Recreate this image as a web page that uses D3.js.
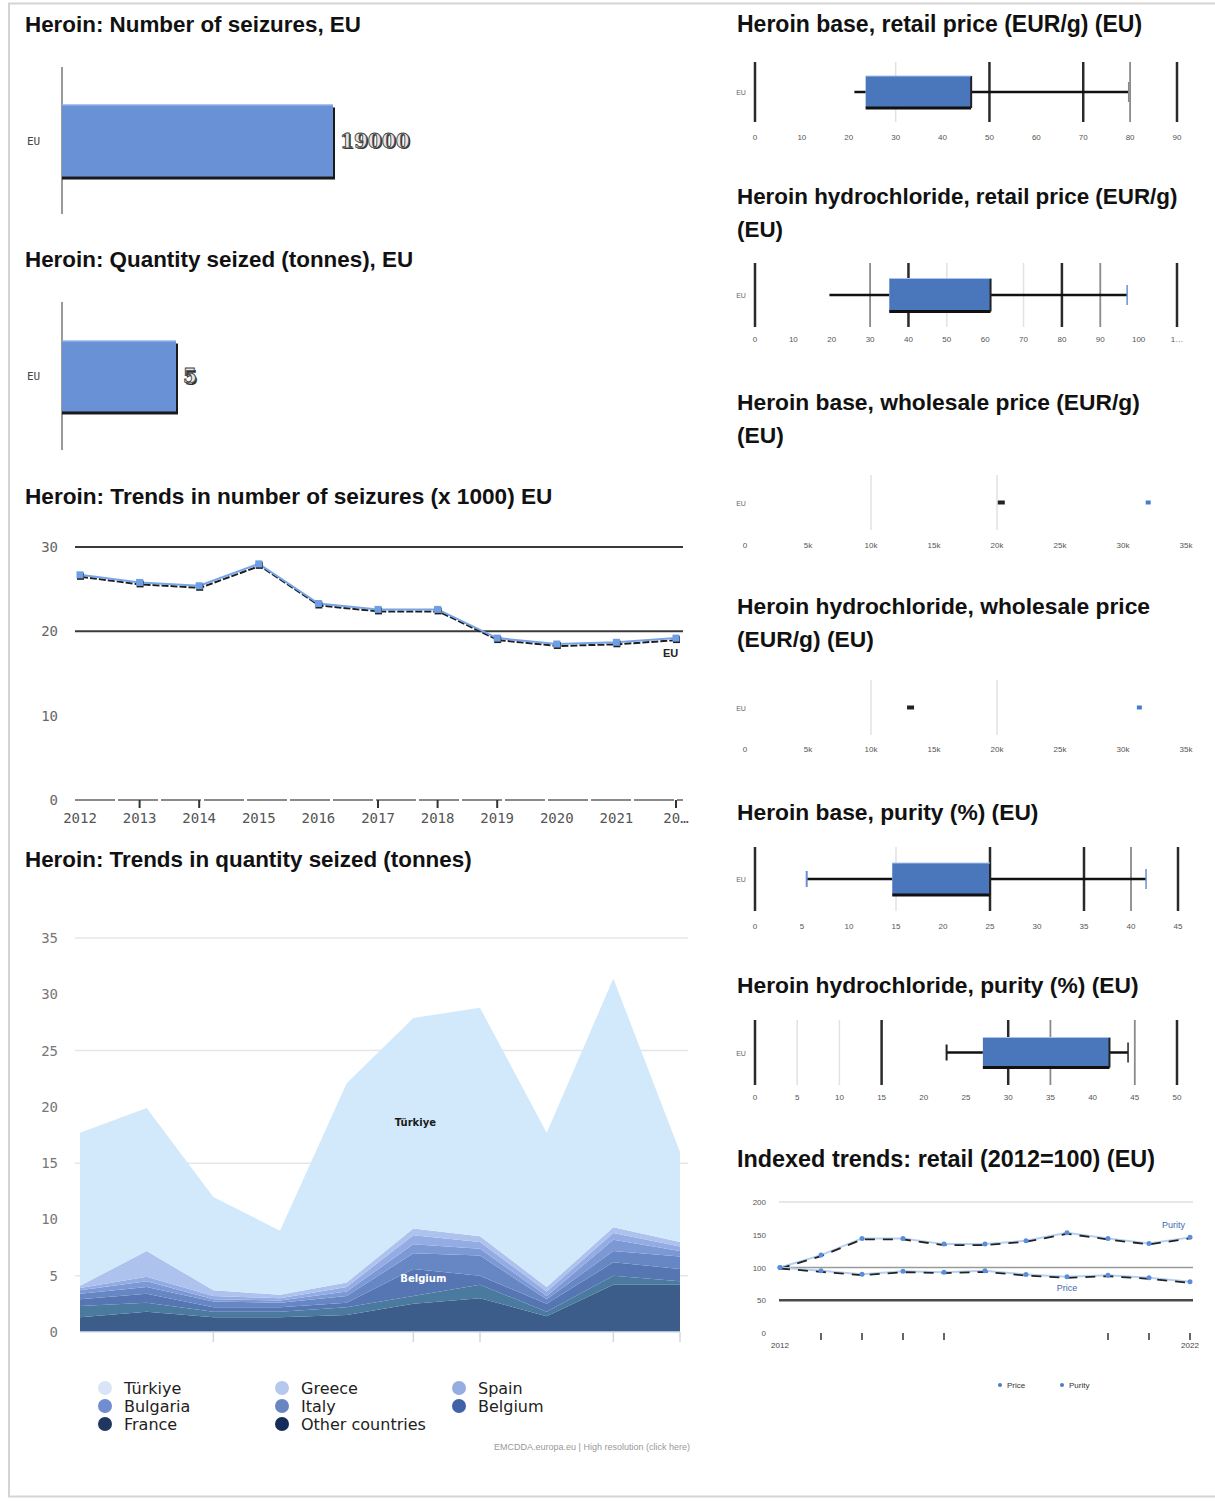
<!DOCTYPE html>
<html><head><meta charset="utf-8">
<script src="https://cdn.jsdelivr.net/npm/d3@7"></script>
<style>
body{margin:0;background:#fff;}
svg{display:block;font-family:"Liberation Sans",Arial,sans-serif;}
</style>
</head><body>
<svg id="c" width="1215" height="1501"></svg>
<script>
// ---------------- DATA ----------------
const barCategory = ["EU"];
const seizuresCount = [19000];
const quantitySeized = [5];

const trendYears = ["2012","2013","2014","2015","2016","2017","2018","2019","2020","2021","2022"];
const trendSeizures = [26.7, 25.8, 25.4, 28.0, 23.3, 22.6, 22.6, 19.2, 18.5, 18.7, 19.2];
const trendYTicks = [0, 10, 20, 30];
const trendTickYears = ["2013","2014","2017","2018","2019","2022"];

const areaYears = ["2012","2013","2014","2015","2016","2017","2018","2019","2020","2021"];
const seriesNames = ["Türkiye","Greece","Spain","Bulgaria","Italy","Belgium","France","Other countries"];
const turkiye        = [13.6, 12.7, 8.3, 5.7, 17.7, 18.7, 20.3, 13.7, 22.1, 8.0];
const greece         = [0.2, 2.3, 0.5, 0.3, 0.4, 0.6, 0.5, 0.4, 0.5, 0.4];
const spain          = [0.2, 0.4, 0.3, 0.2, 0.4, 0.8, 0.6, 0.4, 0.6, 0.4];
const bulgaria       = [0.3, 0.5, 0.2, 0.2, 0.4, 0.8, 0.6, 0.3, 1.0, 0.5];
const italy          = [0.5, 0.6, 0.5, 0.4, 0.6, 1.4, 1.8, 0.4, 1.0, 1.1];
const belgium        = [0.6, 0.8, 0.4, 0.4, 0.4, 2.4, 0.8, 0.7, 1.2, 1.1];
const france         = [1.0, 0.8, 0.5, 0.5, 0.7, 0.7, 1.2, 0.4, 0.8, 0.3];
const otherCountries = [1.3, 1.8, 1.3, 1.3, 1.5, 2.5, 3.0, 1.4, 4.2, 4.2];
const areaYTicks = [0, 5, 10, 15, 20, 25, 30, 35];
const areaTickYears = ["2014","2017","2018","2020","2021"];

const boxCategory = ["EU"];
// [min, q1, q3, max]
const baseRetailBox = [21.2, 23.6, 46.1, 79.7];
const baseRetailTicks = [0, 10, 20, 30, 40, 50, 60, 70, 80, 90];
const hclRetailBox = [19.4, 35.0, 61.4, 97.0];
const hclRetailTicks = [0, 10, 20, 30, 40, 50, 60, 70, 80, 90, 100, 110];
const baseWholesaleMarks = [20300, 32000];
const hclWholesaleMarks = [13100, 31300];
const wholesaleTicks = [0, 5000, 10000, 15000, 20000, 25000, 30000, 35000];
const wholesaleTickLabels = ["0","5k","10k","15k","20k","25k","30k","35k"];
const basePurityBox = [5.5, 14.6, 25.0, 41.6];
const basePurityTicks = [0, 5, 10, 15, 20, 25, 30, 35, 40, 45];
const hclPurityBox = [22.7, 27.0, 42.0, 44.2];
const hclPurityTicks = [0, 5, 10, 15, 20, 25, 30, 35, 40, 45, 50];

const indexYears = [2012, 2013, 2014, 2015, 2016, 2017, 2018, 2019, 2020, 2021, 2022];
const indexPrice  = [100, 94.9, 89.8, 94.4, 92.9, 94.9, 89.3, 85.7, 88.3, 84.2, 78.1];
const indexPurity = [100, 118.9, 144.4, 144.4, 135.7, 135.7, 140.8, 153.0, 144.4, 136.7, 146.0];
const indexYTicks = [0, 50, 100, 150, 200];
const indexTickYears = [2013, 2014, 2015, 2016, 2020, 2021, 2022];

// ---------------- DRAW ----------------
const svg = d3.select("#c");
const LABEL_FONT = "'DejaVu Sans Mono', monospace";

svg.append("rect").attr("x", 9).attr("y", 3.5).attr("width", 1215).attr("height", 1493)
  .attr("fill", "none").attr("stroke", "#d4d4d4").attr("stroke-width", 2);

function title(x, y, lines, size) {
  lines.forEach((t, i) => svg.append("text").attr("x", x).attr("y", y + i * 33)
    .attr("font-size", size).attr("font-weight", "bold").attr("fill", "#111").text(t));
}

title(25, 32, ["Heroin: Number of seizures, EU"], 22.4);
title(25, 267, ["Heroin: Quantity seized (tonnes), EU"], 22.4);
title(25, 504, ["Heroin: Trends in number of seizures (x 1000) EU"], 22.6);
title(25, 867, ["Heroin: Trends in quantity seized (tonnes)"], 22.4);
title(737, 32, ["Heroin base, retail price (EUR/g) (EU)"], 23);
title(737, 204, ["Heroin hydrochloride, retail price (EUR/g)", "(EU)"], 22.4);
title(737, 410, ["Heroin base, wholesale price (EUR/g)", "(EU)"], 22.8);
title(737, 614, ["Heroin hydrochloride, wholesale price", "(EUR/g) (EU)"], 22.8);
title(737, 820, ["Heroin base, purity (%) (EU)"], 22.8);
title(737, 993, ["Heroin hydrochloride, purity (%) (EU)"], 22.8);
title(737, 1167, ["Indexed trends: retail (2012=100) (EU)"], 23.4);

// ---- bar charts ----
function barChart(values, y0, y1, xMax, pad) {
  const x = d3.scaleLinear().domain([0, d3.max(values)]).range([62, xMax]);
  const y = d3.scaleBand().domain(barCategory).range([y0, y1]).padding(pad);
  const g = svg.append("g");
  g.append("line").attr("x1", 62).attr("x2", 62).attr("y1", y0).attr("y2", y1)
    .attr("stroke", "#9a9a9a").attr("stroke-width", 2);
  barCategory.forEach((c, i) => {
    const v = values[i];
    const yy = y(c), h = y.bandwidth(), w = x(v) - x(0);
    g.append("rect").attr("x", x(0)).attr("y", yy + 3).attr("width", w + 2).attr("height", h)
      .attr("fill", "#1a1a1a");
    g.append("rect").attr("x", x(0)).attr("y", yy).attr("width", w).attr("height", h)
      .attr("fill", "#6891d6");
    g.append("line").attr("x1", x(0)).attr("x2", x(v)).attr("y1", yy + 0.5).attr("y2", yy + 0.5)
      .attr("stroke", "#a8c6f0").attr("stroke-width", 1);
    g.append("text").attr("x", 27).attr("y", yy + h / 2 + 4).attr("font-size", 11)
      .attr("fill", "#444").attr("font-family", LABEL_FONT).text(c);
    const lbl = d3.format("d")(v);
    g.append("text").attr("x", x(v) + 8.5).attr("y", yy + h / 2 + 8.5)
      .attr("font-family", "'DejaVu Serif', serif").attr("font-weight", "bold").attr("font-size", 20)
      .attr("fill", "#333").text(lbl);
    g.append("text").attr("x", x(v) + 7).attr("y", yy + h / 2 + 7)
      .attr("font-family", "'DejaVu Serif', serif").attr("font-weight", "bold").attr("font-size", 20)
      .attr("fill", "#e8e8e8").attr("stroke", "#444").attr("stroke-width", 0.9).text(lbl);
  });
}
barChart(seizuresCount, 67, 214, 333, 0.342);
barChart(quantitySeized, 302, 450, 176, 0.352);

// ---- trend line chart ----
(function () {
  const x = d3.scalePoint().domain(trendYears).range([80, 676]);
  const y = d3.scaleLinear().domain([0, 30]).range([800, 547]);
  const g = svg.append("g");
  trendYTicks.forEach(t => {
    if (t === 20 || t === 30) {
      g.append("line").attr("x1", 75).attr("x2", 683).attr("y1", y(t)).attr("y2", y(t))
        .attr("stroke", "#3a3a3a").attr("stroke-width", 2);
    }
    g.append("text").attr("x", 58).attr("y", y(t) + 5).attr("text-anchor", "end")
      .attr("font-family", LABEL_FONT).attr("font-size", 14).attr("fill", "#666").text(t);
  });
  g.append("line").attr("x1", 75).attr("x2", 683).attr("y1", y(0)).attr("y2", y(0))
    .attr("stroke", "#8a8a8a").attr("stroke-width", 2).attr("stroke-dasharray", "40,3");
  trendTickYears.forEach(t => g.append("line").attr("x1", x(t)).attr("x2", x(t))
    .attr("y1", y(0)).attr("y2", y(0) + 8).attr("stroke", "#333").attr("stroke-width", 2));
  trendYears.forEach((t, i) => {
    const lbl = i === trendYears.length - 1 ? "20…" : t;
    g.append("text").attr("x", x(t)).attr("y", 823).attr("text-anchor", "middle")
      .attr("font-family", LABEL_FONT).attr("font-size", 14).attr("fill", "#555").text(lbl);
  });
  const pts = trendYears.map((t, i) => [x(t), y(trendSeizures[i])]);
  const line = d3.line();
  g.append("path").attr("d", line(pts.map(p => [p[0] + 1, p[1] + 2]))).attr("fill", "none")
    .attr("stroke", "#1e1e1e").attr("stroke-width", 2).attr("stroke-dasharray", "7,2");
  g.append("path").attr("d", line(pts)).attr("fill", "none")
    .attr("stroke", "#79a5e6").attr("stroke-width", 2);
  pts.forEach(p => {
    g.append("rect").attr("x", p[0] - 3).attr("y", p[1] - 2).attr("width", 7).attr("height", 7).attr("fill", "#222");
    g.append("rect").attr("x", p[0] - 3.5).attr("y", p[1] - 3.5).attr("width", 7).attr("height", 7).attr("fill", "#6e9ee4");
  });
  const last = pts[pts.length - 1];
  g.append("text").attr("x", last[0] - 13).attr("y", last[1] + 19)
    .attr("font-size", 11).attr("font-weight", "bold").attr("fill", "#222").text("EU");
})();

// ---- stacked area chart ----
(function () {
  const bottomToTop = [otherCountries, france, belgium, italy, bulgaria, spain, greece, turkiye];
  const keysBT = ["Other countries", "France", "Belgium", "Italy", "Bulgaria", "Spain", "Greece", "Türkiye"];
  const areaColors = {
    "Türkiye": "#d2e9fb", "Greece": "#aec2ee", "Spain": "#93acE3", "Bulgaria": "#7c99d6",
    "Italy": "#6787c4", "Belgium": "#5676b3", "France": "#4a7a9e", "Other countries": "#3c5c8a"
  };
  const legendColors = {
    "Türkiye": "#d9e5f7", "Greece": "#b6c8ed", "Spain": "#96ade1", "Bulgaria": "#6f8dd0",
    "Italy": "#6886c2", "Belgium": "#3f63a6", "France": "#1f375f", "Other countries": "#142c58"
  };
  const rows = areaYears.map((yr, i) => {
    const r = { year: yr };
    keysBT.forEach((k, j) => r[k] = bottomToTop[j][i]);
    return r;
  });
  const stack = d3.stack().keys(keysBT)(rows);
  const x = d3.scalePoint().domain(areaYears).range([80, 680]);
  const y = d3.scaleLinear().domain([0, 35]).range([1332, 938]);
  const g = svg.append("g");
  areaYTicks.forEach(t => {
    if (t % 10 === 5) g.append("line").attr("x1", 75).attr("x2", 688).attr("y1", y(t)).attr("y2", y(t))
      .attr("stroke", "#e6e6e6").attr("stroke-width", 1.5);
    g.append("text").attr("x", 58).attr("y", y(t) + 5).attr("text-anchor", "end")
      .attr("font-family", LABEL_FONT).attr("font-size", 14).attr("fill", "#777").text(t);
  });
  const area = d3.area().x(d => x(d.data.year)).y0(d => y(d[0])).y1(d => y(d[1]));
  stack.forEach(s => g.append("path").attr("d", area(s)).attr("fill", areaColors[s.key]));
  g.append("line").attr("x1", 80).attr("x2", 680).attr("y1", y(0)).attr("y2", y(0))
    .attr("stroke", "#cfe3f5").attr("stroke-width", 1.5);
  areaTickYears.forEach(t => g.append("line").attr("x1", x(t)).attr("x2", x(t))
    .attr("y1", y(0)).attr("y2", y(0) + 10).attr("stroke", "#d6d6d6").attr("stroke-width", 1.5));
  // labels
  const iT = 5;
  const tk = stack.find(s => s.key === "Türkiye");
  g.append("text").attr("x", x(areaYears[iT]) + 2).attr("y", y((tk[iT][0] + tk[iT][1]) / 2) + 3)
    .attr("text-anchor", "middle").attr("font-size", 10).attr("font-weight", "bold")
    .attr("font-family", "'DejaVu Sans', sans-serif").attr("fill", "#1a1a1a").text("Türkiye");
  const bk = stack.find(s => s.key === "Belgium");
  g.append("text").attr("x", x(areaYears[iT]) + 10).attr("y", y((bk[iT][0] + bk[iT][1]) / 2))
    .attr("text-anchor", "middle").attr("font-size", 10).attr("font-weight", "bold")
    .attr("font-family", "'DejaVu Sans', sans-serif").attr("fill", "#ffffff").text("Belgium");
  // legend
  seriesNames.forEach((n, i) => {
    const col = i % 3, row = Math.floor(i / 3);
    const lx = 105 + col * 177, ly = 1388 + row * 18;
    g.append("circle").attr("cx", lx).attr("cy", ly).attr("r", 7).attr("fill", legendColors[n]);
    g.append("text").attr("x", lx + 19).attr("y", ly + 6).attr("font-size", 16)
      .attr("font-family", "'DejaVu Sans', sans-serif").attr("fill", "#222").text(n);
  });
  g.append("text").attr("x", 690).attr("y", 1450).attr("text-anchor", "end").attr("font-size", 9)
    .attr("fill", "#999").text("EMCDDA.europa.eu | High resolution (click here)");
})();

// ---- box plots ----
function gridStyle(kind) {
  if (kind === "dark") return { c: "#2a2a2a", w: 2.5 };
  if (kind === "mid") return { c: "#8a8a8a", w: 1.8 };
  if (kind === "light") return { c: "#e2e2e2", w: 1.5 };
  return null;
}
function boxPanel(o) {
  const x = d3.scaleLinear().domain([o.ticks[0], o.ticks[o.ticks.length - 1]]).range(o.range);
  const g = svg.append("g");
  o.ticks.forEach((t, i) => {
    const k = (o.dark || []).includes(t) ? "dark" : (o.mid || []).includes(t) ? "mid" : (o.light || []).includes(t) ? "light" : null;
    const s = gridStyle(k);
    if (s) g.append("line").attr("x1", x(t)).attr("x2", x(t)).attr("y1", o.top).attr("y2", o.bottom)
      .attr("stroke", s.c).attr("stroke-width", s.w);
    g.append("text").attr("x", x(t)).attr("y", o.labelY + 3).attr("text-anchor", "middle")
      .attr("font-size", 8).attr("fill", "#555").text(o.labels ? o.labels[i] : t);
  });
  const yb = d3.scaleBand().domain(boxCategory).range([o.top, o.bottom]).padding(o.pad || 0.5);
  boxCategory.forEach(c => {
    const cy = yb(c) + yb.bandwidth() / 2;
    g.append("text").attr("x", 741).attr("y", cy + 3).attr("text-anchor", "middle")
      .attr("font-size", 7).attr("fill", "#666").text(c);
    if (o.box) {
      const [mn, q1, q3, mx] = o.box;
      const b0 = cy - o.half, b1 = cy + o.half;
      g.append("line").attr("x1", x(mn)).attr("x2", x(q1)).attr("y1", cy).attr("y2", cy)
        .attr("stroke", "#111").attr("stroke-width", 2.5);
      g.append("line").attr("x1", x(q3)).attr("x2", x(mx)).attr("y1", cy).attr("y2", cy)
        .attr("stroke", "#111").attr("stroke-width", 2.5);
      g.append("line").attr("x1", x(mx)).attr("x2", x(mx)).attr("y1", cy - 10).attr("y2", cy + 10)
        .attr("stroke", o.capColor || "#888").attr("stroke-width", 1.5);
      if (o.minCap) g.append("line").attr("x1", x(mn)).attr("x2", x(mn)).attr("y1", cy - 8).attr("y2", cy + 8)
        .attr("stroke", o.minCap).attr("stroke-width", 2);
      g.append("rect").attr("x", x(q1)).attr("y", b0).attr("width", x(q3) - x(q1)).attr("height", b1 - b0)
        .attr("fill", "#4a77bc");
      g.append("line").attr("x1", x(q1)).attr("x2", x(q3)).attr("y1", b1).attr("y2", b1)
        .attr("stroke", "#111").attr("stroke-width", 3);
      g.append("line").attr("x1", x(q3)).attr("x2", x(q3)).attr("y1", b0).attr("y2", b1)
        .attr("stroke", "#222").attr("stroke-width", 2);
      g.append("line").attr("x1", x(q1)).attr("x2", x(q3)).attr("y1", b0).attr("y2", b0)
        .attr("stroke", "#a4c6f0").attr("stroke-width", 1);
    }
    if (o.marks) {
      g.append("rect").attr("x", x(o.marks[0]) - 3).attr("y", cy - 2).attr("width", 7).attr("height", 4).attr("fill", "#222");
      g.append("rect").attr("x", x(o.marks[1]) - 2.5).attr("y", cy - 2).attr("width", 5).attr("height", 4).attr("fill", "#4a7ccc");
    }
  });
}
boxPanel({ ticks: baseRetailTicks, range: [755, 1177], top: 62, bottom: 122, labelY: 137,
  dark: [0, 50, 70, 90], mid: [80], light: [30], box: baseRetailBox, half: 16 });
boxPanel({ ticks: hclRetailTicks, range: [755, 1177], top: 263, bottom: 327, labelY: 339,
  labels: hclRetailTicks.map((t, i) => i === hclRetailTicks.length - 1 ? "1…" : t),
  dark: [0, 40, 80, 110], mid: [30, 90], light: [50, 70], box: hclRetailBox, half: 16.5, capColor: "#6b8fd0" });
boxPanel({ ticks: wholesaleTicks, labels: wholesaleTickLabels, range: [745, 1186], top: 475, bottom: 530, labelY: 545,
  light: [10000, 20000], marks: baseWholesaleMarks });
boxPanel({ ticks: wholesaleTicks, labels: wholesaleTickLabels, range: [745, 1186], top: 680, bottom: 735, labelY: 749,
  light: [10000, 20000], marks: hclWholesaleMarks });
boxPanel({ ticks: basePurityTicks, range: [755, 1178], top: 847, bottom: 911, labelY: 926,
  dark: [0, 25, 35, 45], mid: [40], light: [15], box: basePurityBox, half: 16, capColor: "#6b8fd0", minCap: "#6b8fd0" });
boxPanel({ ticks: hclPurityTicks, range: [755, 1177], top: 1020, bottom: 1085, labelY: 1097,
  dark: [0, 15, 30, 50], mid: [35, 45], light: [5, 10], box: hclPurityBox, half: 15, capColor: "#222", minCap: "#222" });

// ---- indexed trends ----
(function () {
  const x = d3.scalePoint().domain(indexYears).range([780, 1190]);
  const y = d3.scaleLinear().domain([0, 200]).range([1333, 1202]);
  const g = svg.append("g");
  const gl = { 200: ["#cfcfcf", 1.2], 100: ["#9a9a9a", 1.5], 50: ["#4a4a4a", 2.5] };
  indexYTicks.forEach(t => {
    if (gl[t]) g.append("line").attr("x1", 779).attr("x2", 1193).attr("y1", y(t)).attr("y2", y(t))
      .attr("stroke", gl[t][0]).attr("stroke-width", gl[t][1]);
    g.append("text").attr("x", 766).attr("y", y(t) + 3).attr("text-anchor", "end")
      .attr("font-size", 8).attr("fill", "#555").text(t);
  });
  indexTickYears.forEach(t => g.append("line").attr("x1", x(t)).attr("x2", x(t))
    .attr("y1", y(0)).attr("y2", y(0) + 7).attr("stroke", "#333").attr("stroke-width", 1.5));
  [indexYears[0], indexYears[indexYears.length - 1]].forEach(t =>
    g.append("text").attr("x", x(t)).attr("y", 1348).attr("text-anchor", "middle")
      .attr("font-size", 8).attr("fill", "#444").text(t));
  const line = d3.line();
  [[indexPurity, "Purity"], [indexPrice, "Price"]].forEach(([vals]) => {
    const pts = indexYears.map((t, i) => [x(t), y(vals[i])]);
    g.append("path").attr("d", line(pts)).attr("fill", "none").attr("stroke", "#b5d0f2").attr("stroke-width", 2);
    g.append("path").attr("d", line(pts.map(p => [p[0], p[1] + 1]))).attr("fill", "none")
      .attr("stroke", "#222").attr("stroke-width", 1.8).attr("stroke-dasharray", "10,8");
    pts.forEach(p => g.append("circle").attr("cx", p[0]).attr("cy", p[1]).attr("r", 2.5).attr("fill", "#5b8ed8"));
  });
  const lp = indexYears.length - 1;
  g.append("text").attr("x", x(indexYears[lp]) - 5).attr("y", y(indexPurity[lp]) - 9).attr("text-anchor", "end")
    .attr("font-size", 9).attr("fill", "#3d6ab0").text("Purity");
  g.append("text").attr("x", x(indexYears[7])).attr("y", y(indexPrice[7]) + 14).attr("text-anchor", "middle")
    .attr("font-size", 9).attr("fill", "#3d6ab0").text("Price");
  // legend
  [["Price", 1000], ["Purity", 1062]].forEach(([n, lx]) => {
    g.append("circle").attr("cx", lx).attr("cy", 1385).attr("r", 2).attr("fill", "#4a7ccc");
    g.append("text").attr("x", lx + 7).attr("y", 1388).attr("font-size", 8).attr("fill", "#333").text(n);
  });
})();
</script>
</body></html>
